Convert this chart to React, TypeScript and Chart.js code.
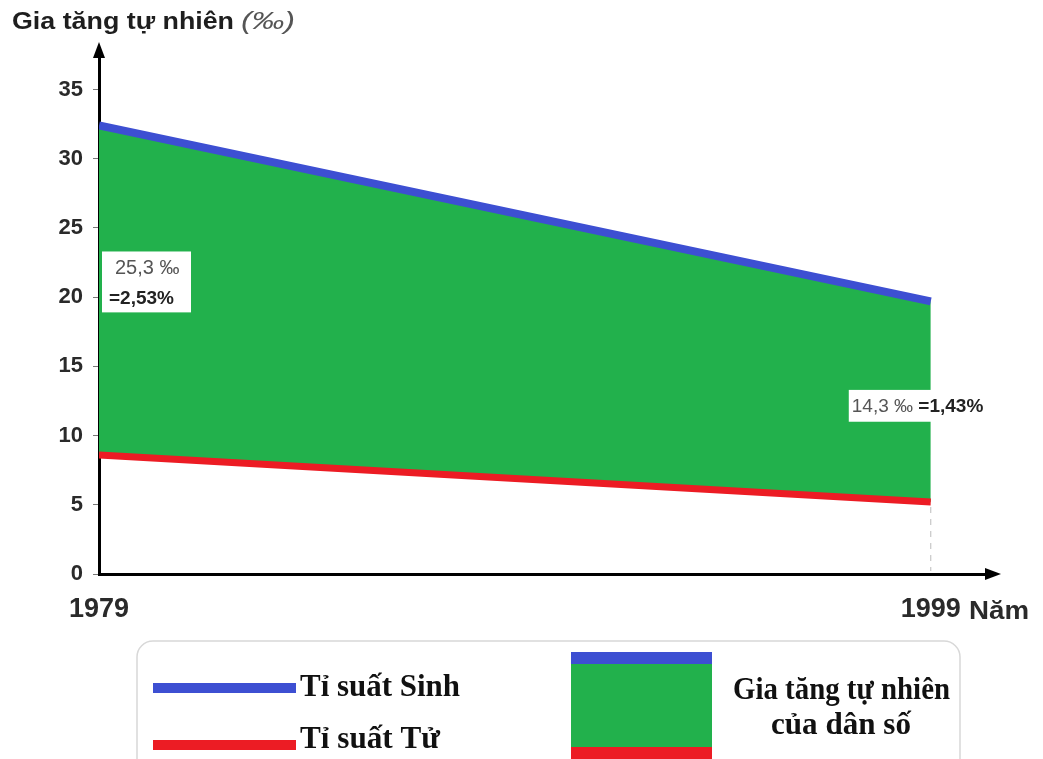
import React, { useEffect, useRef } from "react";
import { Chart, registerables } from "chart.js";

Chart.register(...registerables);

const years = [1979, 1999];
const birthRate = [32.4, 19.7];
const deathRate = [8.6, 5.2];
const yTicks = [0, 5, 10, 15, 20, 25, 30, 35];
const xTicks = [1979, 1999];
const startNote = ["25,3 ‰", "=2,53%"];
const endNote = ["14,3 ‰ ", "=1,43%"];
const title = "Gia tăng tự nhiên";
const titleUnit = "(‰)";
const xTitle = "Năm";
const legendBirth = "Tỉ suất Sinh";
const legendDeath = "Tỉ suất Tử";
const legendFill = ["Gia tăng tự nhiên", "của dân số"];

const BLUE = "#3d4fd2";
const GREEN = "#22b14c";
const RED = "#ec1c24";
const SANS = "'Liberation Sans', Arial, sans-serif";
const SERIF = "'Liberation Serif', 'Times New Roman', serif";

function stretchText(ctx: CanvasRenderingContext2D, text: string, x: number, y: number, width: number) {
  const w = ctx.measureText(text).width;
  const sx = width / w;
  ctx.save();
  ctx.translate(x, y);
  ctx.scale(sx, 1);
  ctx.fillText(text, 0, 0);
  ctx.restore();
}

const decor = {
  id: "decor",
  afterDraw(chart: any) {
    const ctx = chart.ctx as CanvasRenderingContext2D;
    const { chartArea: a, scales } = chart;
    const x = scales.x;
    const y = scales.y;
    ctx.save();

    // title
    ctx.fillStyle = "#1e1e1e";
    ctx.textBaseline = "alphabetic";
    ctx.textAlign = "left";
    ctx.font = `bold 23px ${SANS}`;
    stretchText(ctx, title, 12, 29, 222);
    ctx.font = `italic 23px ${SANS}`;
    ctx.fillStyle = "#555";
    stretchText(ctx, titleUnit, 241, 29, 54);

    // axis arrows
    ctx.fillStyle = "#000";
    ctx.beginPath();
    ctx.moveTo(a.left, a.top - 6);
    ctx.lineTo(a.left - 6, a.top + 10);
    ctx.lineTo(a.left + 6, a.top + 10);
    ctx.closePath();
    ctx.fill();
    ctx.beginPath();
    ctx.moveTo(a.right + 12, a.bottom);
    ctx.lineTo(a.right - 4, a.bottom - 6);
    ctx.lineTo(a.right - 4, a.bottom + 6);
    ctx.closePath();
    ctx.fill();

    // dashed guide at end year
    const xe = x.getPixelForValue(years[1]);
    ctx.strokeStyle = "#bbb";
    ctx.lineWidth = 1;
    ctx.setLineDash([6, 6]);
    ctx.beginPath();
    ctx.moveTo(xe, y.getPixelForValue(deathRate[1]) + 5);
    ctx.lineTo(xe, a.bottom - 3);
    ctx.stroke();
    ctx.setLineDash([]);

    // start note
    const x0 = x.getPixelForValue(years[0]);
    const bTop = y.getPixelForValue(23.3);
    const bBot = y.getPixelForValue(18.9);
    ctx.fillStyle = "#fff";
    ctx.fillRect(x0 + 3, bTop, 89, bBot - bTop);
    ctx.font = `20px ${SANS}`;
    ctx.fillStyle = "#555";
    ctx.textBaseline = "middle";
    ctx.fillText(startNote[0], x0 + 16, bTop + 17);
    ctx.font = `bold 19px ${SANS}`;
    ctx.fillStyle = "#222";
    ctx.fillText(startNote[1], x0 + 10, bTop + 47);

    // end note
    const nTop = y.getPixelForValue(13.3);
    const nBot = y.getPixelForValue(11.0);
    ctx.fillStyle = "#fff";
    ctx.fillRect(xe - 82, nTop, 150, nBot - nTop);
    ctx.font = `19px ${SANS}`;
    ctx.fillStyle = "#555";
    const ny = (nTop + nBot) / 2 + 1;
    ctx.fillText(endNote[0], xe - 79, ny);
    const ew = ctx.measureText(endNote[0]).width;
    ctx.font = `bold 19px ${SANS}`;
    ctx.fillStyle = "#222";
    ctx.fillText(endNote[1], xe - 79 + ew, ny);

    // x axis title
    ctx.font = `bold 25px ${SANS}`;
    ctx.fillStyle = "#2a2a2a";
    ctx.textBaseline = "alphabetic";
    stretchText(ctx, xTitle, 969, 619, 60);

    // legend frame
    ctx.strokeStyle = "#d8d8d8";
    ctx.lineWidth = 1.5;
    ctx.beginPath();
    ctx.roundRect(137, 641, 823, 140, 16);
    ctx.stroke();

    // legend items
    ctx.lineWidth = 10;
    ctx.strokeStyle = BLUE;
    ctx.beginPath();
    ctx.moveTo(153, 688);
    ctx.lineTo(296, 688);
    ctx.stroke();
    ctx.strokeStyle = RED;
    ctx.beginPath();
    ctx.moveTo(153, 745);
    ctx.lineTo(296, 745);
    ctx.stroke();

    ctx.fillStyle = "#111";
    ctx.font = `bold 32px ${SERIF}`;
    ctx.textBaseline = "middle";
    stretchText(ctx, legendBirth, 300, 688, 160);
    stretchText(ctx, legendDeath, 300, 740, 140);

    ctx.fillStyle = BLUE;
    ctx.fillRect(571, 652, 141, 12);
    ctx.fillStyle = GREEN;
    ctx.fillRect(571, 664, 141, 83);
    ctx.fillStyle = RED;
    ctx.fillRect(571, 747, 141, 12);

    ctx.fillStyle = "#111";
    stretchText(ctx, legendFill[0], 733, 691, 217);
    stretchText(ctx, legendFill[1], 771, 726, 140);

    ctx.restore();
  },
};

export default function App() {
  const ref = useRef<HTMLCanvasElement | null>(null);
  useEffect(() => {
    document.body.style.margin = "0";
    const canvas = ref.current;
    if (!canvas) return;
    const chart = new Chart(canvas, {
      type: "line",
      data: {
        datasets: [
          {
            label: legendBirth,
            data: years.map((yr, i) => ({ x: yr, y: birthRate[i] })),
            borderColor: BLUE,
            borderWidth: 8,
            pointRadius: 0,
            fill: false,
            tension: 0,
          },
          {
            label: legendDeath,
            data: years.map((yr, i) => ({ x: yr, y: deathRate[i] })),
            borderColor: RED,
            borderWidth: 7,
            pointRadius: 0,
            backgroundColor: GREEN,
            fill: "-1",
            tension: 0,
          },
        ],
      },
      options: {
        animation: false,
        responsive: false,
        devicePixelRatio: 1,
        layout: { padding: { left: 0, top: 48, right: 54, bottom: 0 } },
        plugins: {
          legend: { display: false },
          tooltip: { enabled: false },
          filler: { drawTime: "beforeDatasetsDraw" },
        } as any,
        scales: {
          x: {
            type: "linear",
            min: 1979,
            max: 2000.4,
            afterBuildTicks: (s: any) => {
              s.ticks = xTicks.map((v) => ({ value: v }));
            },
            afterFit: (s: any) => {
              s.height = 185;
            },
            grid: { display: false, drawTicks: false },
            border: { display: true, color: "#000", width: 3 },
            ticks: {
              padding: 19,
              color: "#2a2a2a",
              font: { family: SANS, size: 27, weight: "bold" },
              maxRotation: 0,
              autoSkip: false,
              callback: (v: any) => String(v),
            },
          },
          y: {
            type: "linear",
            min: 0,
            max: 38,
            afterBuildTicks: (s: any) => {
              s.ticks = yTicks.map((v) => ({ value: v }));
            },
            afterFit: (s: any) => {
              s.width = 99;
            },
            grid: {
              display: true,
              drawOnChartArea: false,
              drawTicks: true,
              tickLength: 6,
              color: "#777",
            },
            border: { display: true, color: "#000", width: 3 },
            ticks: {
              padding: 10,
              color: "#2a2a2a",
              font: { family: SANS, size: 22, weight: "bold" },
            },
          },
        },
      },
      plugins: [decor],
    });
    return () => chart.destroy();
  }, []);
  return (
    <div style={{ position: "absolute", left: 0, top: 0, width: 1043, height: 759, background: "#fff" }}>
      <canvas ref={ref} width={1043} height={759} style={{ display: "block" }} />
    </div>
  );
}
